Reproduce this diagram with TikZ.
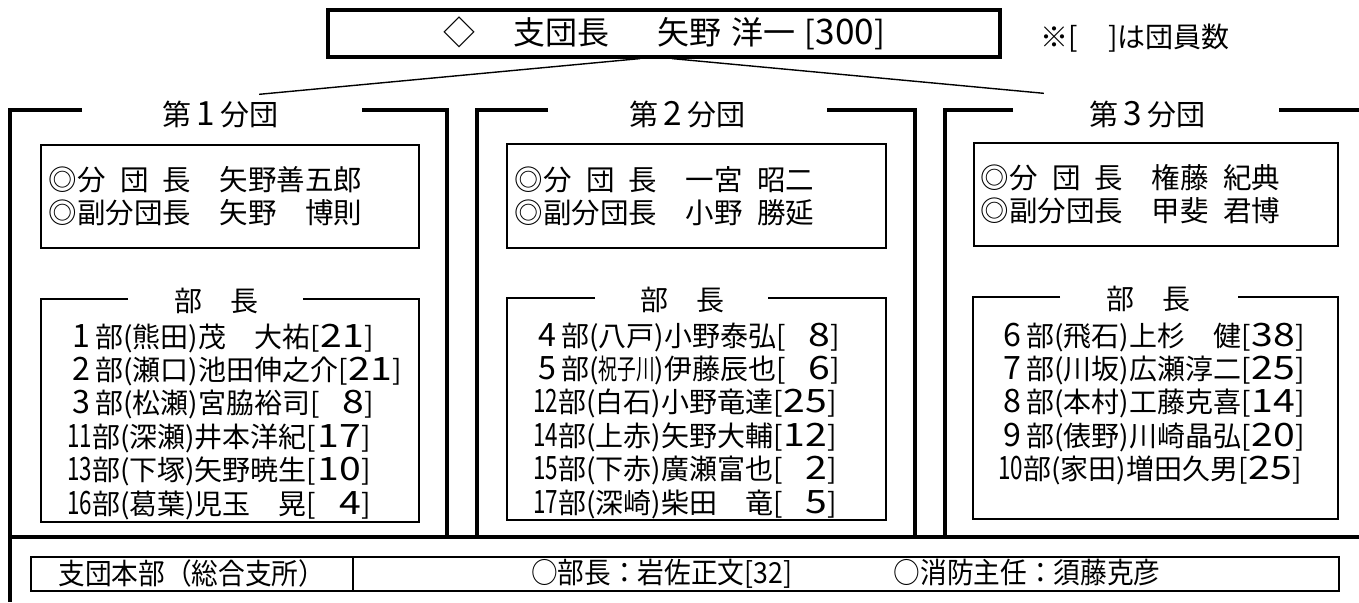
\documentclass[tikz,border=0pt]{standalone}
\usepackage{fontspec}
\usepackage{graphicx}
\setmainfont{Noto Sans CJK JP}
\newfontfamily\jpcond[FakeStretch=0.92]{Noto Sans CJK JP}
\usetikzlibrary{calc}

\newcommand\fw[1]{\makebox[1em][c]{\scalebox{1.15}{#1}}}
\newcommand\tw[1]{\scalebox{0.8}[1.15]{#1}}
\newcommand\cnt[1]{[\makebox[1.6em][r]{\scalebox{1.4}[1.15]{#1}}]}
\newcommand\hs{\hspace{0.5em}}

\tikzset{
  heavy/.style={line width=3.2pt},
  thinline/.style={line width=1.4pt},
  boxline/.style={line width=1.7pt},
  toptext/.style={font=\fontsize{32}{34}\selectfont},
  grplab/.style={font=\fontsize{29}{32}\selectfont, inner sep=0pt},
  offbox/.style={draw, boxline, anchor=north west, align=left,
    font=\fontsize{28.5}{33}\selectfont, inner xsep=8pt, inner ysep=0pt},
  depttitle/.style={font=\fontsize{28}{30}\selectfont, inner sep=0pt},
  deptrow/.style={font=\fontsize{28}{30}\selectfont, inner sep=0pt, anchor=base west},
  notetext/.style={font=\fontsize{28}{30}\selectfont, inner sep=0pt},
  hqtext/.style={font=\jpcond\fontsize{29}{30}\selectfont},
}

\begin{document}
\begin{tikzpicture}[x=1pt,y=-1pt]
\useasboundingbox[fill=white] (0,0) rectangle (1359,602);

% top box
\node[draw, heavy, minimum width=672pt, minimum height=47pt, inner sep=0pt, toptext] (top) at (664,33.5)
  {◇\hspace{1.2em}支団長\hspace{1.5em}矢野\hspace{0.3em}洋一\hspace{0.3em}[\scalebox{1.1}[1.1]{300}]};
\node[notetext, anchor=west] (note) at (1040,38) {※[\hspace{1.1em}]は団員数};

% group labels
\node[grplab] (g1) at (220,114) {第\fw{1}分団};
\node[grplab] (g2) at (687,114) {第\fw{2}分団};
\node[grplab] (g3) at (1147,114) {第\fw{3}分団};

% connectors
\draw[thinline] ($(top.south)+(-24,0)$) -- ($(g1.north east)+(-19,-6)$);
\draw[thinline] ($(top.south)+(-11,0)$) -- ($(top.south)+(-11,0)$ |- g2.north);
\draw[thinline] ($(top.south)+(8,0)$) -- ($(g3.north west)+(-45,-7)$);

% group frames
\draw[heavy] (82,110) -- (10,110) -- (10,602);
\draw[heavy] (362,110) -- (447,110) -- (447,537);
\draw[heavy] (548,110) -- (477,110) -- (477,537);
\draw[heavy] (827,110) -- (915,110) -- (915,537);
\draw[heavy] (1013,110) -- (945,110) -- (945,537);
\draw[heavy] (1279,110) -- (1359,110);
\draw[heavy] (10,537) -- (1359,537);

% officer boxes
\node[offbox, text width=362pt, minimum height=103pt] (o1) at (40,144)
  {◎分\hs 団\hs 長　矢野善五郎\\◎副分団長　矢野　博則};
\node[offbox, text width=363pt, minimum height=104pt] (o2) at (506,143)
  {◎分\hs 団\hs 長　一宮\hs 昭二\\◎副分団長　小野\hs 勝延};
\node[offbox, text width=350pt, minimum height=103pt, inner xsep=7pt] (o3) at (973,142)
  {◎分\hs 団\hs 長　権藤\hs 紀典\\◎副分団長　甲斐\hs 君博};

% department boxes
\node[depttitle] (t1) at (216,301) {部　長};
\node[depttitle] (t2) at (682,300) {部　長};
\node[depttitle] (t3) at (1148,299) {部　長};
\draw[boxline] (128,299) -- (41,299) -- (41,522) -- (419,522) -- (419,299) -- (303,299);
\draw[boxline] (595,298) -- (507,298) -- (507,520) -- (886,520) -- (886,298) -- (768,298);
\draw[boxline] (1060,297) -- (973,297) -- (973,519) -- (1338,519) -- (1338,297) -- (1238,297);

% rows group 1
\node[deptrow] (r11) at (67,347) {\fw{1}部(熊田)茂　大祐\cnt{21}};
\node[deptrow] (r12) at (67,380.4) {\fw{2}部(瀬口)池田伸之介\cnt{21}};
\node[deptrow] (r13) at (67,413.8) {\fw{3}部(松瀬)宮脇裕司\cnt{8}};
\node[deptrow] (r14) at (67,447.2) {\tw{11}部(深瀬)井本洋紀\cnt{17}};
\node[deptrow] (r15) at (67,480.6) {\tw{13}部(下塚)矢野暁生\cnt{10}};
\node[deptrow] (r16) at (67,514) {\tw{16}部(葛葉)児玉　晃\cnt{4}};

% rows group 2
\node[deptrow] (r21) at (533,346) {\fw{4}部(八戸)小野泰弘\cnt{8}};
\node[deptrow] (r22) at (533,379.4) {\fw{5}部(\scalebox{0.67}[1]{祝子川})伊藤辰也\cnt{6}};
\node[deptrow] (r23) at (533,412.8) {\tw{12}部(白石)小野竜達\cnt{25}};
\node[deptrow] (r24) at (533,446.2) {\tw{14}部(上赤)矢野大輔\cnt{12}};
\node[deptrow] (r25) at (533,479.6) {\tw{15}部(下赤)廣瀬富也\cnt{2}};
\node[deptrow] (r26) at (533,513) {\tw{17}部(深崎)柴田　竜\cnt{5}};

% rows group 3
\node[deptrow] (r31) at (998,346) {\fw{6}部(飛石)上杉　健\cnt{38}};
\node[deptrow] (r32) at (998,379.4) {\fw{7}部(川坂)広瀬淳二\cnt{25}};
\node[deptrow] (r33) at (998,412.8) {\fw{8}部(本村)工藤克喜\cnt{14}};
\node[deptrow] (r34) at (998,446.2) {\fw{9}部(俵野)川崎晶弘\cnt{20}};
\node[deptrow] (r35) at (998,479.6) {\tw{10}部(家田)増田久男\cnt{25}};

% headquarters row
\node[draw, boxline, minimum width=322pt, minimum height=34pt, inner sep=0pt, anchor=north west, hqtext] (hq) at (30,556)
  {支団本部（総合支所）};
\node[draw, boxline, minimum width=986pt, minimum height=34pt, inner sep=0pt, anchor=north west, hqtext] (hqr) at (352,556)
  {○部長：岩佐正文[32]\hspace{3.5em}○消防主任：須藤克彦};
\end{tikzpicture}
\end{document}
